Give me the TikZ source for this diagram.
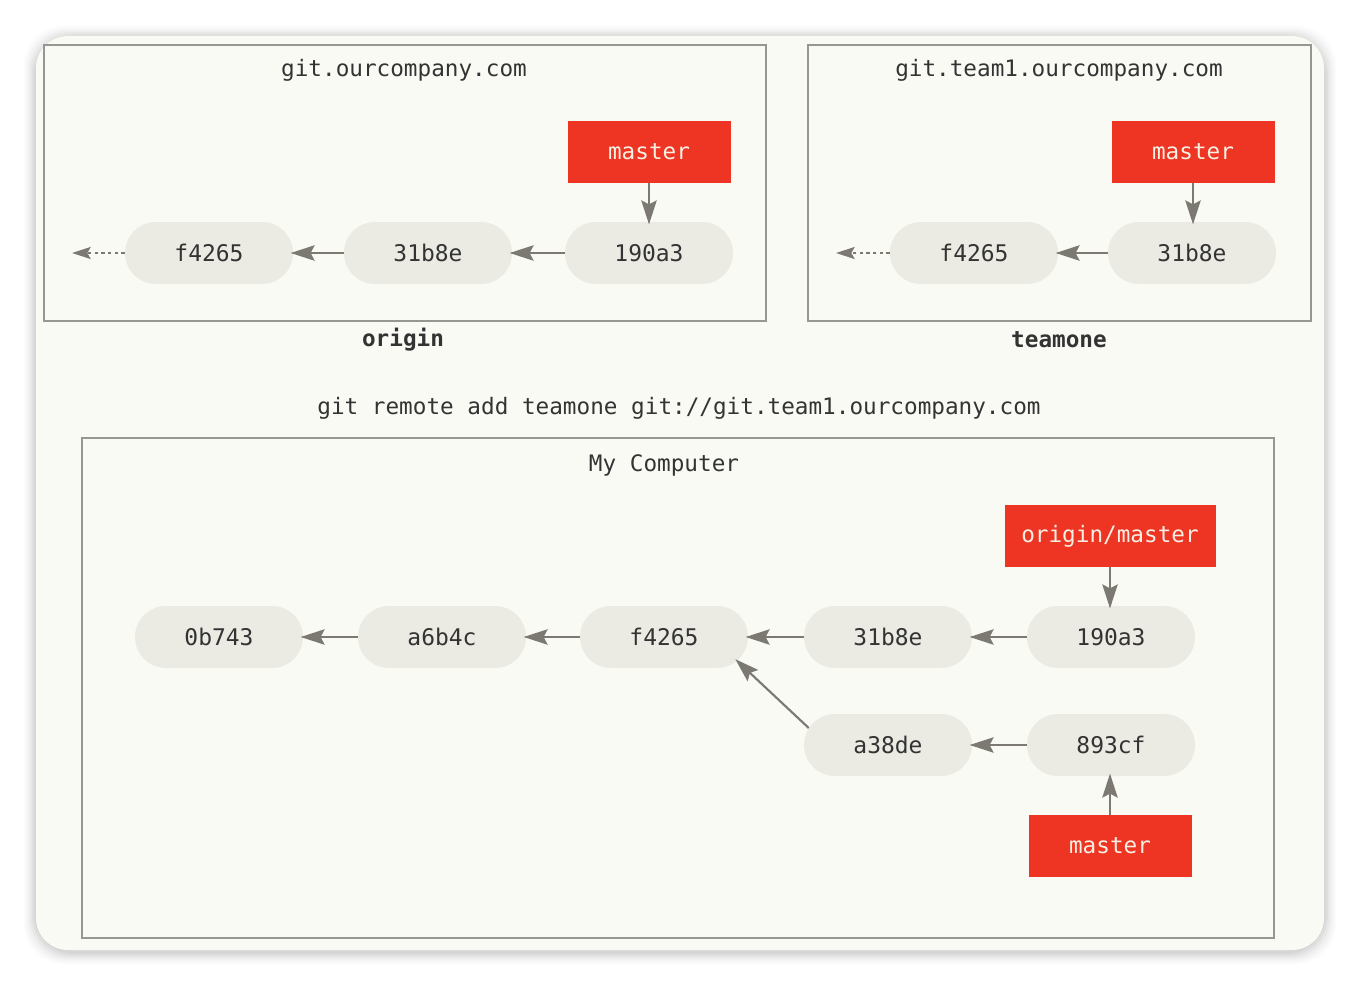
\documentclass[tikz,border=0pt]{standalone}
\usepackage{fontspec}
\newfontfamily\gmono{DejaVu Sans Mono}
\usetikzlibrary{shapes.misc,arrows.meta,calc}
\definecolor{cardbg}{RGB}{250,250,245}
\definecolor{pillbg}{RGB}{235,235,228}
\definecolor{boxline}{RGB}{152,150,144}
\definecolor{arrowc}{RGB}{124,120,114}
\definecolor{refred}{RGB}{238,52,34}
\definecolor{reftext}{RGB}{245,240,228}
\definecolor{txt}{RGB}{51,51,51}
\tikzset{
  x=0.75pt, y=-0.75pt,
  commit/.style={rounded rectangle, fill=pillbg, minimum width=126pt, minimum height=46.5pt, inner sep=0pt, text=txt, font=\gmono\fontsize{17.2}{20}\selectfont},
  branch/.style={rectangle, fill=refred, minimum height=46.5pt, inner sep=0pt, text=reftext, font=\gmono\fontsize{17}{20}\selectfont},
  server/.style={draw=boxline, line width=1.5pt},
  lbl/.style={text=txt, font=\gmono\fontsize{17}{20}\selectfont, inner sep=0pt},
  blbl/.style={text=txt, font=\gmono\bfseries\fontsize{17}{20}\selectfont, inner sep=0pt},
  parent/.style={draw=arrowc, line width=1.6pt, -{Stealth[length=18pt,width=11.5pt,inset=3pt]}, shorten >=-2pt},
  dparent/.style={parent, line width=1.2pt, dash pattern=on 2.5pt off 2.5pt, -{Stealth[length=14pt,width=9pt,inset=2.5pt]}, shorten >=0pt},
}
\begin{document}
\begin{tikzpicture}
\useasboundingbox (0,0) rectangle (1360,988);
\fill[white] (0,0) rectangle (1360,988);
% shadow
\foreach \o/\a in {12/0.015,10/0.02,8/0.025,6/0.03,4/0.035,2/0.04}{
  \fill[black, opacity=\a, rounded corners=30pt] (36-\o,36-\o+2) rectangle (1324+\o,950+\o+2);
}
\fill[cardbg, rounded corners=24pt] (36,36) rectangle (1324,950);

% origin server
\draw[server] (44,45) rectangle (766,321);
\node[lbl] (ohost) at (404,70) {git.ourcompany.com};
\node[blbl] (oname) at (403,340) {origin};
\node[commit] (of) at (209,253) {f4265};
\node[commit] (ob) at (428,253) {31b8e};
\node[commit] (oa) at (649,253) {190a3};
\node[branch, minimum width=122.25pt] (om) at (649,152) {master};
\coordinate (oend) at (72,253);
\draw[parent] (ob.west) -- (of.east);
\draw[parent] (oa.west) -- (ob.east);
\draw[dparent] (of.west) -- (oend);
\draw[parent] (om.south) -- (om.south |- oa.north);

% teamone server
\draw[server] (808,45) rectangle (1311,321);
\node[lbl] (thost) at (1059,70) {git.team1.ourcompany.com};
\node[blbl] (tname) at (1059,340) {teamone};
\node[commit] (tf) at (974,253) {f4265};
\node[commit] (tb) at (1192,253) {31b8e};
\node[branch, minimum width=122.25pt] (tm) at (1193,152) {master};
\coordinate (tend) at (836,253);
\draw[parent] (tb.west) -- (tf.east);
\draw[dparent] (tf.west) -- (tend);
\draw[parent] (tm.south) -- (tm.south |- tb.north);

% command
\node[lbl] (cmd) at (679,408) {git remote add teamone git://git.team1.ourcompany.com};

% my computer
\draw[server] (82,438) rectangle (1274,938);
\node[lbl] (mc) at (664,465) {My Computer};
\node[commit] (c0) at (219,637) {0b743};
\node[commit] (c1) at (442,637) {a6b4c};
\node[commit] (c2) at (664,637) {f4265};
\node[commit] (c3) at (888,637) {31b8e};
\node[commit] (c4) at (1111,637) {190a3};
\node[commit] (d1) at (888,745) {a38de};
\node[commit] (d2) at (1111,745) {893cf};
\node[branch, minimum width=158.25pt] (om2) at (1110,536) {origin/master};
\node[branch, minimum width=122.25pt] (lm) at (1110,846) {master};
\draw[parent] (c1.west) -- (c0.east);
\draw[parent] (c2.west) -- (c1.east);
\draw[parent] (c3.west) -- (c2.east);
\draw[parent] (c4.west) -- (c3.east);
\draw[parent] (d2.west) -- (d1.east);
\draw[parent] ($(d1.west)+(5,-17)$) -- ($(c2.east)+(-11,24)$);
\draw[parent] (om2.south) -- (om2.south |- c4.north);
\draw[parent] (lm.north) -- (lm.north |- d2.south);
\end{tikzpicture}
\end{document}
